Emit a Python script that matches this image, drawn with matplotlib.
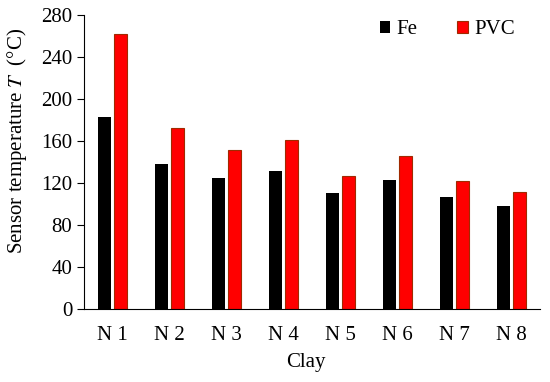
import numpy as np
import matplotlib
matplotlib.use("Agg")
import matplotlib.pyplot as plt

plt.rcParams['font.family'] = ['Liberation Serif', 'DejaVu Serif']
plt.rcParams['mathtext.fontset'] = 'stix'

clays = ['N 1', 'N 2', 'N 3', 'N 4', 'N 5', 'N 6', 'N 7', 'N 8']
fe = [183, 138, 125, 131, 110, 123, 107, 98]
pvc = [262, 172, 151, 161, 127, 146, 122, 111]
yticks = [0, 40, 80, 120, 160, 200, 240, 280]

fig = plt.figure(figsize=(5.5, 3.82), dpi=100)
ax = fig.add_axes([0.153, 0.191, 0.829, 0.770])

x = np.arange(len(clays))
w = 0.23
ax.bar(x - 0.145, fe, w, color='black', label='Fe')
ax.bar(x + 0.145, pvc, w, color='#ff0000', edgecolor='#a02a00', linewidth=0.8, label='PVC')

ax.set_xlim(-0.5, len(clays) - 0.5)
ax.set_ylim(0, 280)
ax.set_yticks(yticks)
ax.set_xticks(x)
ax.set_xticklabels(clays, fontsize=15)
ax.tick_params(axis='y', labelsize=15, direction='out', length=5)
ax.tick_params(axis='x', length=0, pad=12)
ax.spines['top'].set_visible(False)
ax.spines['right'].set_visible(False)
ax.set_xlabel('Clay', fontsize=15)
ax.xaxis.set_label_coords(0.487, -0.15)
ax.set_ylabel('Sensor temperature $T$  (°C)', fontsize=15)
ax.yaxis.set_label_coords(-0.122, 0.57)

ax.legend(loc='upper right', ncol=2, frameon=False, fontsize=15,
          handlelength=0.5, handleheight=0.5, columnspacing=1.9,
          handletextpad=0.3, bbox_to_anchor=(0.985, 1.045))

fig.savefig('out.png', dpi=100)
